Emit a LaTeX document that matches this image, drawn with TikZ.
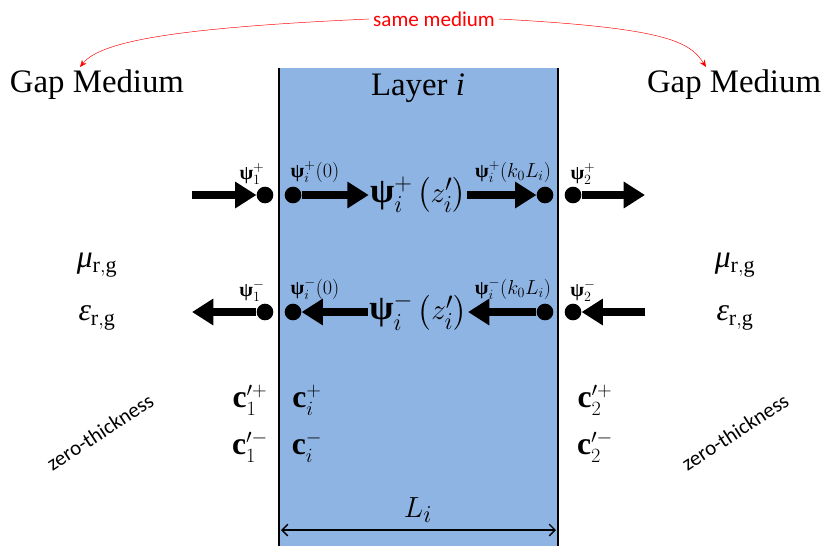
\documentclass[tikz,border=0pt]{standalone}
\usepackage{amsmath}
\usepackage{fontspec}
\setmainfont{Liberation Serif}
\newfontfamily\calib{Carlito}
\usetikzlibrary{arrows.meta}
\definecolor{layerblue}{RGB}{142,180,227}
\newcommand{\psib}{\text{\bfseries ψ}}
\newcommand{\cb}{\text{\bfseries c}}

\begin{document}
\begin{tikzpicture}[
    x=0.03cm, y=-0.03cm,
    dot/.style={circle, fill, inner sep=0pt, minimum size=0.5cm},
    flow/.style={line width=6.5pt, -{Triangle[length=0.64cm, width=0.76cm]}},
    big/.style={font=\fontsize{28}{30}\selectfont},
    mid/.style={font=\fontsize{27}{29}\selectfont},
    small/.style={font=\fontsize{17}{19}\selectfont, inner sep=1pt},
    note/.style={font=\calib\fontsize{18}{20}\selectfont}
]
    \useasboundingbox (0,0) rectangle (824,546);

    % Layer
    \fill[layerblue] (279,68) rectangle (558,546);
    \draw[line width=2.5pt] (279,68) -- (279,546);
    \draw[line width=2.5pt] (558,68) -- (558,546);

    % Titles
    \node[big] (gapL) at (97,85) {Gap Medium};
    \node[big] (gapR) at (734,85) {Gap Medium};
    \node[big] (layer) at (418,88) {Layer \textit{i}};
    \node[red, font=\calib\fontsize{18}{20}\selectfont] (same) at (434,19) {same medium};
    \coordinate (tipL) at (80,67);
    \coordinate (tipR) at (706,67);
    \draw[red, -{Stealth[length=6pt, width=5pt]}] (same.west) .. controls (170,28) and (100,42) .. (tipL);
    \draw[red, -{Stealth[length=6pt, width=5pt]}] (same.east) .. controls (668,28) and (690,42) .. (tipR);

    % Forward waves
    \coordinate (inL1) at (192,195);
    \coordinate (outR1) at (645,195);
    \node[dot] (dL1) at (265,195) {};
    \node[dot] (dA1) at (293,195) {};
    \node[dot] (dB1) at (545,195) {};
    \node[dot] (dR1) at (573,195) {};
    \node[font=\fontsize{30}{32}\selectfont, inner sep=1pt] (psiP) at (418,195) {$\psib_i^{+}\left(z_i'\right)$};
    \node[small] (lbl1p) at (252,174) {$\psib_1^{+}$};
    \node[small] (lbl0p) at (315,172) {$\psib_i^{+}(0)$};
    \node[small] (lblkp) at (513,172) {$\psib_i^{+}(k_0L_i)$};
    \node[small] (lbl2p) at (583,174) {$\psib_2^{+}$};
    \draw[flow] (inL1) -- (dL1);
    \draw[flow] (dA1) -- (psiP.west);
    \draw[flow] (psiP.east) -- (dB1);
    \draw[flow] (dR1) -- (outR1);

    % Backward waves
    \coordinate (outL2) at (192,312);
    \coordinate (inR2) at (645,312);
    \node[dot] (dL2) at (265,312) {};
    \node[dot] (dA2) at (293,312) {};
    \node[dot] (dB2) at (545,312) {};
    \node[dot] (dR2) at (573,312) {};
    \node[font=\fontsize{30}{32}\selectfont, inner sep=1pt] (psiM) at (418,312) {$\psib_i^{-}\left(z_i'\right)$};
    \node[small] (lbl1m) at (252,291) {$\psib_1^{-}$};
    \node[small] (lbl0m) at (315,289) {$\psib_i^{-}(0)$};
    \node[small] (lblkm) at (513,289) {$\psib_i^{-}(k_0L_i)$};
    \node[small] (lbl2m) at (583,291) {$\psib_2^{-}$};
    \draw[flow] (dL2) -- (outL2);
    \draw[flow] (psiM.west) -- (dA2);
    \draw[flow] (dB2) -- (psiM.east);
    \draw[flow] (inR2) -- (dR2);

    % Material parameters
    \node[mid] (muL) at (97,265) {\textit{μ}$_{\mathrm{r,g}}$};
    \node[mid] (epsL) at (97,318) {\textit{ε}$_{\mathrm{r,g}}$};
    \node[mid] (muR) at (735,265) {\textit{μ}$_{\mathrm{r,g}}$};
    \node[mid] (epsR) at (735,318) {\textit{ε}$_{\mathrm{r,g}}$};

    % Coefficients
    \node[mid] (c1p) at (250,400) {$\cb_1^{\prime +}$};
    \node[mid] (c1m) at (250,447) {$\cb_1^{\prime -}$};
    \node[mid] (cip) at (307,400) {$\cb_i^{+}$};
    \node[mid] (cim) at (307,447) {$\cb_i^{-}$};
    \node[mid] (c2p) at (595,400) {$\cb_2^{\prime +}$};
    \node[mid] (c2m) at (595,447) {$\cb_2^{\prime -}$};

    \node[note, rotate=33] (zeroL) at (100,432) {zero-thickness};
    \node[note, rotate=33] (zeroR) at (735,432) {zero-thickness};

    % Thickness
    \coordinate (dimL) at (281,530);
    \coordinate (dimR) at (556,530);
    \draw[line width=1.2pt, {Straight Barb[length=5pt]}-{Straight Barb[length=5pt]}] (dimL) -- (dimR);
    \node[big] (len) at (418,510) {$L_i$};
\end{tikzpicture}
\end{document}
